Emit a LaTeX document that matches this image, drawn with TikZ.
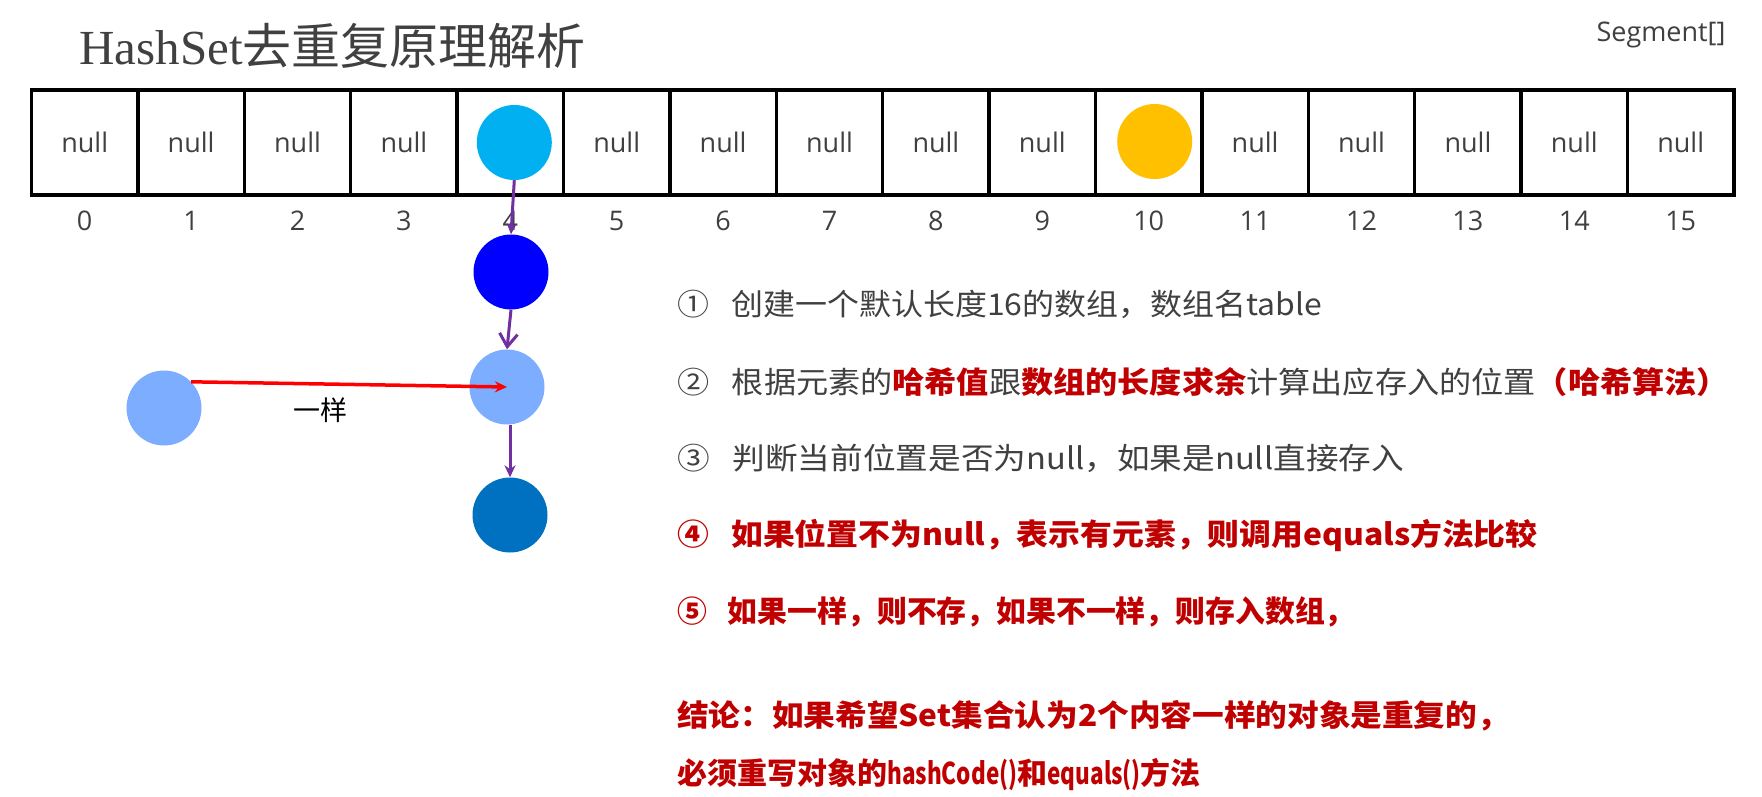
\documentclass[tikz,border=0pt]{standalone}
\usepackage{fontspec}
\setmainfont{Open Sans}
\newfontfamily\cjk{Noto Sans CJK SC}
\newfontfamily\titleserif{Liberation Serif}
\usetikzlibrary{positioning,calc,arrows.meta}
\tikzset{>={Stealth[length=12pt,width=11pt]}}
\definecolor{inkgray}{HTML}{404040}
\definecolor{deepred}{HTML}{C00000}
\definecolor{skyblue}{HTML}{00B0F0}
\definecolor{paleblue}{HTML}{7DADFF}
\definecolor{oceanblue}{HTML}{0070C0}
\definecolor{amber}{HTML}{FFC000}
\definecolor{linkpurple}{HTML}{7030A0}
\newcommand{\redbold}[1]{{\bfseries\color{deepred}#1}}

\begin{document}
\begin{tikzpicture}[x=1pt, y=-1pt,
    cell/.style={draw, line width=3.5pt, minimum width=106.4pt, minimum height=105pt, inner sep=0pt, text=inkgray, font=\fontsize{27}{30}\selectfont},
    idx/.style={text=inkgray, font=\fontsize{27}{30}\selectfont},
    elem/.style={circle, minimum size=75pt, inner sep=0pt},
    link/.style={->, draw=linkpurple, line width=3pt},
    item/.style={anchor=west, inner sep=0pt, text=inkgray, font=\cjk\fontsize{30}{33}\selectfont},
    hotitem/.style={item, text=deepred, font=\cjk\bfseries\fontsize{30}{33}\selectfont}
]
\useasboundingbox (0,0) rectangle (1762,797);

\node[anchor=west, text=inkgray, font=\fontsize{49}{53}\selectfont] (title) at (76,46) {\titleserif HashSet\cjk 去重复原理解析};
\node[anchor=east, text=inkgray, font=\fontsize{27}{30}\selectfont] (seg) at (1729,35) {Segment[]};

% the table, 16 slots
\foreach \i/\txt in {0/null,1/null,2/null,3/null,4/{},5/null,6/null,7/null,8/null,9/null,10/{},11/null,12/null,13/null,14/null,15/null} {
  \node[cell] (c\i) at ({31.5+106.4*(\i+0.5)},142.5) {\txt};
  \node[idx] (n\i) at ($(c\i.south)+(0,24)$) {\i};
}

% elements
\node[elem, fill=skyblue] (h4) at ($(c4)+(4,0)$) {};
\node[elem, fill=amber] (h10) at ($(c10)+(6,-1)$) {};
\node[elem, fill=blue] (b2) at (511,272) {};
\node[elem, fill=paleblue] (b3) at (507,387) {};
\node[elem, fill=oceanblue] (b4) at (510,515) {};
\node[elem, fill=paleblue] (fresh) at (164,408) {};

\draw[link, -{Stealth[length=11pt,width=10pt]}] (h4.south) -- (b2.north);
\draw[link, -{Straight Barb[length=13pt,width=18pt]}] (b2.south) -- (b3.north);
\draw[link] (b3.south -| b4.north) -- (b4.north);
\draw[->, red, line width=3.5pt] (fresh.44) -- (b3.center)
    node[pos=0.41, below=9pt, text=black, font=\cjk\fontsize{27}{30}\selectfont] (same) {一样};

% steps
\node[item] (s1) at (677,304.5) {\scalebox{1.065}[1]{①\hspace{0.7em}创建一个默认长度16的数组，数组名table}};
\node[item] (s2) at (677,382) {\scalebox{1.072}[1]{②\hspace{0.7em}根据元素的\redbold{哈希值}跟\redbold{数组的长度求余}计算出应存入的位置\redbold{（哈希算法）}}};
\node[item] (s3) at (677,458.5) {\scalebox{1.088}[1]{③\hspace{0.7em}判断当前位置是否为null，如果是null直接存入}};
\node[hotitem] (s4) at (677,535) {\scalebox{1.061}[1]{④\hspace{0.7em}如果位置不为null，表示有元素，则调用equals方法比较}};
\node[hotitem] (s5) at (677,612) {\scalebox{0.995}[1]{⑤\hspace{0.7em}如果一样，则不存，如果不一样，则存入数组，}};
\node[hotitem] (s6) at (677,716) {\scalebox{1.055}[1]{结论：如果希望Set集合认为2个内容一样的对象是重复的，}};
\node[hotitem] (s7) at (677,775) {必须重写对象的\scalebox{0.75}[1]{hashCode()}和\scalebox{0.75}[1]{equals()}方法};
\end{tikzpicture}
\end{document}
